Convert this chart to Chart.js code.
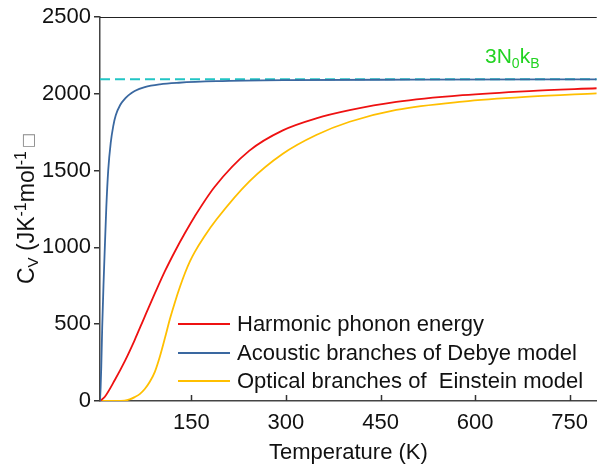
<!DOCTYPE html>
<html>
<head>
<meta charset="utf-8">
<script src="https://cdn.jsdelivr.net/npm/chart.js@4.4.0/dist/chart.umd.min.js"></script>
<style>
  html, body { margin: 0; padding: 0; background: #fff; }
  #wrap { width: 597px; height: 469px; }
</style>
</head>
<body>
<div id="wrap"><canvas id="cv"></canvas></div>
<script>
// values
const xTicks = [150, 300, 450, 600, 750];

const debyeT  = [5, 6, 7, 8.5, 10.5, 12.7, 15, 18, 22, 26, 30, 37, 45, 50, 60, 76, 100, 130, 190, 300, 500, 793];
const debyeCv = [0, 90, 220, 480, 750, 1005, 1260, 1500, 1680, 1790, 1860, 1927, 1970, 1990, 2018, 2044, 2062, 2072, 2082, 2089, 2092, 2094];

const harmT  = [5, 12.7, 28.5, 45, 60, 75, 92, 108, 124, 140, 155, 187, 242, 295, 348, 401, 475, 580, 686, 793];
const harmCv = [0, 28, 137, 265, 397, 540, 700, 845, 975, 1095, 1200, 1395, 1630, 1762, 1840, 1893, 1947, 1991, 2018, 2036];

const einT  = [5, 30, 44, 52, 60, 68, 76, 84, 92, 100, 108, 116, 124, 132, 140, 148, 155, 170, 190, 242, 295, 348, 401, 475, 580, 686, 793];
const einCv = [0, 0, 2, 10, 25, 45, 78, 125, 190, 290, 410, 535, 645, 745, 835, 912, 968, 1068, 1183, 1430, 1610, 1732, 1818, 1895, 1949, 1981, 2003];

const limitT  = [5, 793];
const limitCv = [2095, 2095];

const seriesNames = ['Harmonic phonon energy', 'Acoustic branches of Debye model', 'Optical branches of  Einstein model'];
const seriesColors = ['#ee1111', '#3a68a0', '#ffbf00'];

function pts(xs, ys) { return xs.map((x, i) => ({ x: x, y: ys[i] })); }

function drawRich(ctx, parts, x, y) {
  parts.forEach(p => {
    ctx.font = p[1] + 'px "Liberation Sans", Arial, sans-serif';
    ctx.fillText(p[0], x, y + p[2]);
    x += ctx.measureText(p[0]).width;
  });
  return x;
}

const extras = {
  id: 'extras',
  afterDraw(chart) {
    const ctx = chart.ctx;
    const a = chart.chartArea;
    const xs = chart.scales.x;
    ctx.save();
    // top frame line
    ctx.strokeStyle = '#222';
    ctx.lineWidth = 1.2;
    ctx.beginPath();
    ctx.moveTo(a.left, a.top + 0.5);
    ctx.lineTo(a.right, a.top + 0.5);
    ctx.stroke();
    // inward x ticks
    ctx.strokeStyle = '#333';
    ctx.lineWidth = 1.5;
    xTicks.forEach(v => {
      const px = Math.round(xs.getPixelForValue(v)) + 0.5;
      ctx.beginPath();
      ctx.moveTo(px, a.bottom);
      ctx.lineTo(px, a.bottom - 6);
      ctx.stroke();
    });
    // legend
    const rows = [324, 353, 381];
    ctx.textBaseline = 'middle';
    seriesNames.forEach((name, i) => {
      ctx.strokeStyle = seriesColors[i];
      ctx.lineWidth = 1.8;
      ctx.beginPath();
      ctx.moveTo(178, rows[i]);
      ctx.lineTo(230, rows[i]);
      ctx.stroke();
      ctx.fillStyle = '#111';
      ctx.font = '22px "Liberation Sans", Arial, sans-serif';
      ctx.fillText(name, 237, rows[i] + 1);
    });
    // 3N0kB label
    ctx.textBaseline = 'alphabetic';
    ctx.fillStyle = '#22d322';
    drawRich(ctx, [['3N', 21, 0], ['0', 14, 5], ['k', 21, 0], ['B', 14, 5]], 485, 63);
    // y axis title
    ctx.translate(34, 284);
    ctx.rotate(-Math.PI / 2);
    ctx.fillStyle = '#111';
    const end = drawRich(ctx, [['C', 23, 0], ['V', 15, 4], [' (JK', 23, 0], ['-1', 16, -8], ['mol', 23, 0], ['-1', 16, -8]], 0, 0);
    ctx.fillStyle = '#888';
    ctx.font = '16px "DejaVu Sans", sans-serif';
    ctx.fillText('\u25A1', end + 3, -1);
    ctx.restore();
  }
};

const font22 = { family: '"Liberation Sans", Arial, sans-serif', size: 22 };

new Chart(document.getElementById('cv'), {
  type: 'line',
  data: {
    datasets: [
      { label: seriesNames[1], data: pts(debyeT, debyeCv), borderColor: seriesColors[1], borderWidth: 1.8, cubicInterpolationMode: 'monotone' },
      { label: seriesNames[0], data: pts(harmT, harmCv), borderColor: seriesColors[0], borderWidth: 1.8, cubicInterpolationMode: 'monotone' },
      { label: seriesNames[2], data: pts(einT, einCv), borderColor: seriesColors[2], borderWidth: 1.8, cubicInterpolationMode: 'monotone' },
      { label: '3N0kB', data: pts(limitT, limitCv), borderColor: '#22c5c5', borderWidth: 2, borderDash: [10, 5] }
    ]
  },
  options: {
    responsive: true,
    maintainAspectRatio: false,
    animation: false,
    layout: { padding: { top: 17, right: 0, left: 0, bottom: 0 } },
    elements: {
      point: { radius: 0 },
      line: { fill: false }
    },
    plugins: { legend: { display: false }, tooltip: { enabled: false } },
    scales: {
      x: {
        type: 'linear',
        min: 5,
        max: 793,
        afterBuildTicks: s => { s.ticks = xTicks.map(v => ({ value: v })); },
        afterFit: s => { s.height = 68; },
        grid: { display: true, drawOnChartArea: false, drawTicks: false },
        border: { color: '#444', width: 1.5 },
        ticks: { color: '#111', font: font22, padding: 9, maxRotation: 0, callback: v => String(v) },
        title: { display: true, text: 'Temperature (K)', color: '#111', font: font22, padding: { top: 0, bottom: 3 } }
      },
      y: {
        min: 0,
        max: 2500,
        ticks: { stepSize: 500, color: '#111', font: font22, padding: 3, callback: v => String(v) },
        afterFit: s => { s.width = 100; },
        grid: { display: true, drawOnChartArea: false, tickLength: 6, color: '#333', lineWidth: 1.5 },
        border: { color: '#444', width: 1.5 }
      }
    }
  },
  plugins: [extras]
});
</script>
</body>
</html>
